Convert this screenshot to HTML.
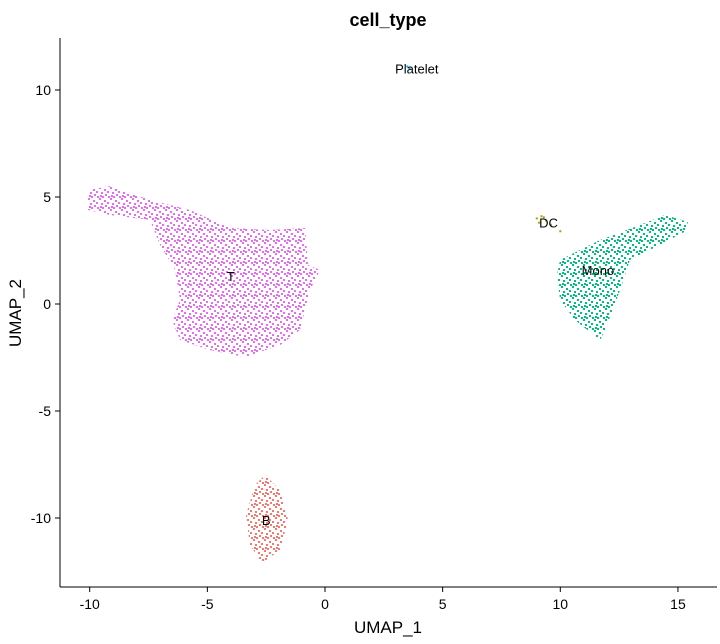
<!DOCTYPE html>
<html><head><meta charset="utf-8"><style>
body{margin:0;background:#fff;}
svg text{font-family:"Liberation Sans",sans-serif;}
</style></head><body>
<svg id="chart" width="720" height="639" xmlns="http://www.w3.org/2000/svg">
<defs id="defs"></defs>
<g id="plot"></g>
</svg>
<script>
const clusterNames=["T","B","Mono"];
const clusterColors=["#E76BF3","#F8766D","#00BF7D"];
const T_outline=[[-10.07,5.33],[-9.14,5.51],[-7.44,4.86],[-5.74,4.39],[-4.04,3.55],[-2.34,3.46],[-0.85,3.55],[-0.72,1.82],[-0.21,1.59],[-0.64,0.65],[-1.06,-1.21],[-1.91,-1.92],[-3.40,-2.48],[-4.89,-2.15],[-6.16,-1.68],[-6.50,-0.75],[-6.16,0.19],[-6.37,1.59],[-7.01,2.76],[-7.44,3.93],[-9.14,4.16],[-10.07,4.39]];
const B_outline=[[-2.55,-7.99],[-1.91,-8.69],[-1.57,-10.09],[-1.91,-11.5],[-2.68,-12.1],[-3.19,-11.26],[-3.36,-9.86],[-2.97,-8.46]];
const Mono_outline=[[9.99,2.06],[11.69,2.99],[13.39,3.69],[14.45,4.16],[15.43,3.83],[15.26,3.36],[14.24,2.76],[12.96,2.06],[12.54,0.65],[11.9,-1.21],[11.69,-1.68],[10.62,-0.75],[9.99,0.19],[9.86,1.36]];
const DC_x=[9.0,9.2,9.4,9.1,9.6,9.3,10.0];
const DC_y=[4.0,4.1,3.9,3.8,3.7,4.05,3.4];
const Platelet_x=[3.5,3.6];
const Platelet_y=[11.1,11.0];
const labelNames=["Platelet","DC","Mono","T","B"];
const labelX=[3.9,9.5,11.6,-4.0,-2.5];
const labelY=[11.0,3.8,1.6,1.3,-10.1];
const xTicks=[-10,-5,0,5,10,15];
const yTicks=[10,5,0,-5,-10];

const sx=v=>325+v*23.53;
const sy=v=>304-v*21.4;
const NS="http://www.w3.org/2000/svg";
const g=document.getElementById('plot');
const defs=document.getElementById('defs');
function mk(tag,attrs,parent){const e=document.createElementNS(NS,tag);for(const k in attrs)e.setAttribute(k,attrs[k]);(parent||g).appendChild(e);return e;}

const dotOffsets=[[0,0],[5,2],[2,5],[6,7],[3,9],[8,4],[9,9],[1,8]];
clusterColors.forEach((c,i)=>{
  const p=mk('pattern',{id:'dots'+i,width:11,height:11,patternUnits:'userSpaceOnUse'},defs);
  dotOffsets.forEach(o=>mk('rect',{x:o[0],y:o[1],width:2,height:2,fill:c},p));
});

const outlines=[T_outline,B_outline,Mono_outline];
outlines.forEach((o,i)=>{
  const p=mk('polygon',{points:o.map(q=>sx(q[0])+','+sy(q[1])).join(' '),fill:'url(#dots'+i+')'});
  
  
});
DC_x.forEach((x,i)=>{
  const r=mk('rect',{x:sx(x)-1,y:sy(DC_y[i])-1,width:2,height:2,fill:'#A3A500'});
  
  
});
Platelet_x.forEach((x,i)=>{
  const r=mk('rect',{x:sx(x)-1,y:sy(Platelet_y[i])-1,width:2,height:2,fill:'#00B0F6'});
  
  
});
labelNames.forEach((n,i)=>{
  const t=mk('text',{x:sx(labelX[i]),y:sy(labelY[i])+5,'text-anchor':'middle','font-size':13,fill:'#000'});
  t.textContent=n;
  
  
});
const xa=mk('line',{x1:60,y1:587,x2:717,y2:587,stroke:'#000','stroke-width':1});


const ya=mk('line',{x1:60,y1:38,x2:60,y2:587,stroke:'#000','stroke-width':1});


xTicks.forEach(v=>{
  mk('line',{x1:sx(v),y1:587,x2:sx(v),y2:592,stroke:'#000'});
  const t=mk('text',{x:sx(v),y:609,'text-anchor':'middle','font-size':14,fill:'#000'});
  t.textContent=v<0?'-'+Math.abs(v):v;
  
  
});
yTicks.forEach(v=>{
  mk('line',{x1:55,y1:sy(v),x2:60,y2:sy(v),stroke:'#000'});
  const t=mk('text',{x:51,y:sy(v)+5,'text-anchor':'end','font-size':14,fill:'#000'});
  t.textContent=v<0?'-'+Math.abs(v):v;
  
  
});
const tt=mk('text',{x:388,y:26,'text-anchor':'middle','font-size':18,'font-weight':'bold',fill:'#000'});
tt.textContent='cell_type';


const xt=mk('text',{x:388,y:633,'text-anchor':'middle','font-size':17,fill:'#000'});
xt.textContent='UMAP_1';


const yt=mk('text',{x:21,y:313,'text-anchor':'middle','font-size':17,fill:'#000',transform:'rotate(-90 21 313)'});
yt.textContent='UMAP_2';


</script>
</body></html>
